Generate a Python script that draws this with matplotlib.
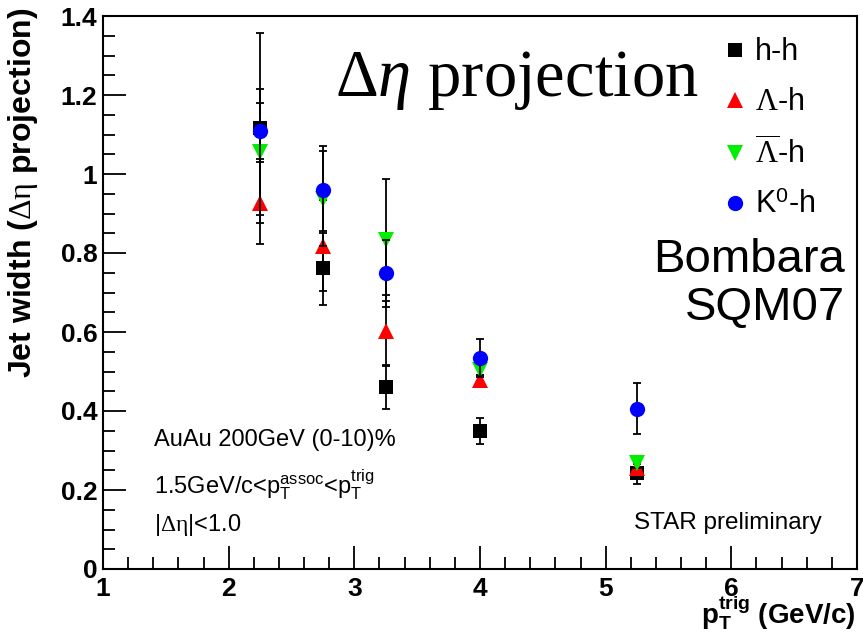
import matplotlib
matplotlib.use('Agg')
import matplotlib.pyplot as plt
import numpy as np

plt.rcParams['font.family'] = ['Liberation Sans', 'DejaVu Sans']
plt.rcParams['mathtext.fontset'] = 'custom'
plt.rcParams['mathtext.rm'] = 'Liberation Serif'
plt.rcParams['mathtext.it'] = 'Liberation Serif:italic'
plt.rcParams['mathtext.sf'] = 'Liberation Sans'
plt.rcParams['mathtext.bf'] = 'Liberation Sans:bold'

# pT trig bins
pt = [2.25, 2.75, 3.25, 4.0, 5.25]

# jet widths + errors
hh = [1.117, 0.762, 0.461, 0.349, 0.243]
hh_err = [0.24, 0.093, 0.055, 0.033, 0.028]
lam = [0.927, 0.818, 0.603, 0.478, 0.255]
lam_err = [0.103, 0.115, 0.09, 0.012, 0.012]
alam = [1.056, 0.937, 0.833, 0.504, 0.268]
alam_err = [0.16, 0.12, 0.155, 0.012, 0.012]
k0 = [1.109, 0.960, 0.749, 0.534, 0.406]
k0_err = [0.07, 0.11, 0.085, 0.048, 0.065]

labels = ['h-h', r'$\Lambda$-h', r'$\overline{\Lambda}$-h', r'K$^{\mathsf{0}}$-h']
colors = ['black', '#ff0000', '#00ee00', '#0000ff']
markers = ['s', '^', 'v', 'o']
sizes = [10, 11, 11, 11]

fig = plt.figure(figsize=(8.63, 6.38), dpi=100)
ax = fig.add_axes([103/863, 1-569/638, 754/863, 553/638])

handles = []
series = [(hh, hh_err), (lam, lam_err), (alam, alam_err), (k0, k0_err)]
for i, (y, e) in enumerate(series):
    ax.errorbar(pt, y, yerr=e, fmt='none', ecolor='black', elinewidth=1.3,
                capsize=3, capthick=1.3, zorder=2 + 2*i)
    h, = ax.plot(pt, y, linestyle='none', marker=markers[i], color=colors[i],
                 markersize=sizes[i], markeredgewidth=0, label=labels[i], zorder=3 + 2*i)
    handles.append(h)

ax.set_xlim(1, 7)
ax.set_ylim(0, 1.4)
ax.set_xticks([1, 2, 3, 4, 5, 6, 7])
ax.set_xticklabels(['1', '2', '3', '4', '5', '6', '7'])
ax.set_yticks([0, 0.2, 0.4, 0.6, 0.8, 1.0, 1.2, 1.4])
ax.set_yticklabels(['0', '0.2', '0.4', '0.6', '0.8', '1', '1.2', '1.4'])
ax.set_xticks(np.arange(1, 7.01, 0.2), minor=True)
ax.set_yticks(np.arange(0, 1.401, 0.05), minor=True)
ax.tick_params(which='both', direction='in', top=False, right=False, width=1.3)
ax.tick_params(which='major', length=16.5, labelsize=19)
ax.tick_params(which='minor', length=8.5)
ax.tick_params(axis='y', pad=4)
ax.tick_params(axis='x', pad=6)
for t in ax.get_xticklabels() + ax.get_yticklabels():
    t.set_fontweight('bold')
for s in ax.spines.values():
    s.set_linewidth(1.5)

ax.set_ylabel(r'Jet width ($\mathrm{\Delta\eta}$ projection)', fontsize=23,
              fontweight='bold', loc='top')
ax.yaxis.set_label_coords(-0.083, 1.0145)
ax.set_xlabel(r'$\mathbf{p}_{\mathbf{T}}^{\mathbf{trig}}$ (GeV/c)', fontsize=20,
              fontweight='bold', loc='right')
ax.xaxis.set_label_coords(0.998, -0.044)

fig.text(335/863, 1-80/638, r'$\Delta\eta$ projection', fontsize=48,
         family='Liberation Serif', va='center', ha='left')

fig.text(845/863, 1-284/638, 'Bombara\nSQM07', fontsize=34, ha='right', va='center',
         linespacing=1.1)

ax.text(0.067, 0.233, 'AuAu 200GeV (0-10)%', transform=ax.transAxes, fontsize=17,
        va='center', ha='left')
ax.text(0.067, 0.152,
        r'1.5GeV/c<p$_{\mathsf{T}}^{\mathsf{assoc}}$<p$_{\mathsf{T}}^{\mathsf{trig}}$',
        transform=ax.transAxes, fontsize=17, va='center', ha='left')
ax.text(0.067, 0.08, r'|$\mathrm{\Delta\eta}$|<1.0', transform=ax.transAxes,
        fontsize=17, va='center', ha='left')
ax.text(0.953, 0.083, 'STAR preliminary', transform=ax.transAxes, fontsize=17.5,
        va='center', ha='right')

ax.legend(handles=handles, loc='upper left', bbox_to_anchor=(0.798, 1.0),
          frameon=False, fontsize=22, handlelength=0.6, handletextpad=0.35,
          labelspacing=0.65, borderpad=0.2)

fig.savefig('out.png', dpi=100)
